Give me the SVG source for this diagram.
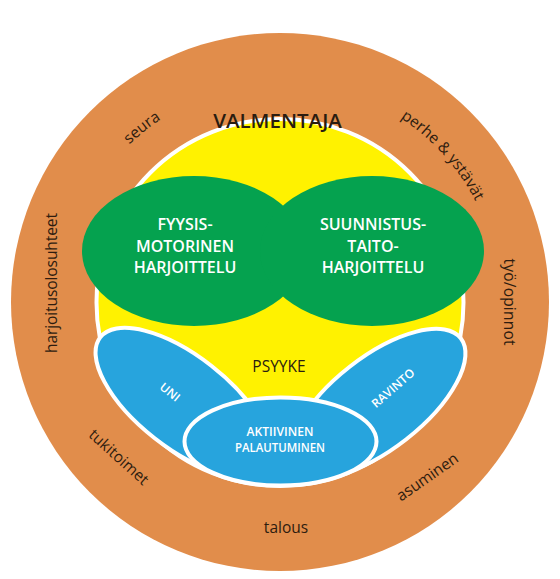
<svg xmlns="http://www.w3.org/2000/svg" width="560" height="579" viewBox="0 0 560 579">
<style>
.ring{font-family:"Open Sans","Noto Sans",sans-serif;font-size:15.5px;fill:#2e1c0f;text-anchor:middle}
.gt{font-family:"Open Sans","Noto Sans",sans-serif;font-size:16px;font-weight:600;fill:#ffffff;text-anchor:middle}
.green{fill:#05a24f}
.blue{fill:#27a4dd;stroke:#ffffff;stroke-width:4}
.bt{font-family:"Open Sans","Noto Sans",sans-serif;font-size:12px;font-weight:600;fill:#ffffff;text-anchor:middle}
.dark{font-family:"Open Sans","Noto Sans",sans-serif;fill:#2a1c10;text-anchor:middle}
</style>
<defs>
<path id="p-seura" d="M64.3,333.8 A218,218 0 0 1 360.2,99.3"/>
<path id="p-perhe" d="M234.3,86.8 A220,220 0 0 1 489.2,370"/>
</defs>
<rect width="560" height="579" fill="#ffffff"/>
<g id="ymparisto">
<circle cx="280" cy="302" r="269" fill="#e18d4b"/>
<text class="ring"><textPath href="#p-seura" startOffset="50%">seura</textPath></text>
<text class="ring"><textPath href="#p-perhe" startOffset="50%">perhe &amp; ystävät</textPath></text>
<text class="ring" transform="translate(504 302) rotate(90)" textLength="87">työ/opinnot</text>
<text class="ring" transform="translate(57 283) rotate(-90)" textLength="140">harjoitusolosuhteet</text>
<text class="ring" transform="translate(118 458) rotate(42)" y="4">tukitoimet</text>
<text class="ring" x="286" y="532.5">talous</text>
<text class="ring" transform="translate(428 478) rotate(-35)" y="4">asuminen</text>
</g>
<g id="psyyke">
<circle cx="280" cy="302.5" r="183.5" fill="#fff200" stroke="#ffffff" stroke-width="4"/>
<text class="dark" x="279" y="372" font-size="15.5">PSYYKE</text>
</g>
<g id="valmentaja">
<text class="dark" x="277.5" y="128" font-size="20.5" font-weight="600" fill="#1f1a16">VALMENTAJA</text>
</g>
<g id="fyysismotorinen">
<ellipse class="green" cx="194" cy="251" rx="112" ry="75"/>
<text class="gt" x="185" y="230">FYYSIS-</text>
<text class="gt" x="185" y="251.5">MOTORINEN</text>
<text class="gt" x="185" y="272.5">HARJOITTELU</text>
</g>
<g id="suunnistustaito">
<ellipse class="green" cx="372" cy="251" rx="112" ry="75"/>
<text class="gt" x="373" y="230">SUUNNISTUS-</text>
<text class="gt" x="373" y="251.5">TAITO-</text>
<text class="gt" x="373" y="272.5">HARJOITTELU</text>
</g>
<g id="uni">
<ellipse class="blue" cx="183" cy="402" rx="105" ry="46" transform="rotate(38 183 402)"/>
<text class="bt" transform="translate(170 392) rotate(39)" y="4.3">UNI</text>
</g>
<g id="ravinto">
<ellipse class="blue" cx="378" cy="403" rx="105" ry="46" transform="rotate(-38 378 403)"/>
<text class="bt" transform="translate(393 388) rotate(-41)" y="4.3">RAVINTO</text>
</g>
<g id="aktiivinen-palautuminen">
<ellipse class="blue" cx="280.5" cy="441.5" rx="96" ry="44"/>
<text class="bt" x="280" y="436" textLength="67" lengthAdjust="spacingAndGlyphs">AKTIIVINEN</text>
<text class="bt" x="280" y="451.5" textLength="90" lengthAdjust="spacingAndGlyphs">PALAUTUMINEN</text>
</g>
<g id="connectors"/>
</svg>
